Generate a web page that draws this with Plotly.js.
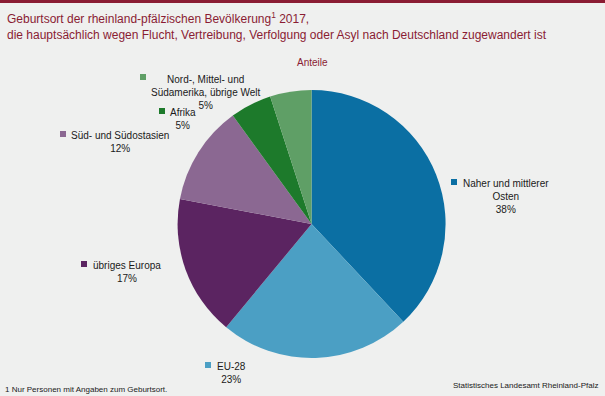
<!DOCTYPE html>
<html><head><meta charset="utf-8">
<script src="https://cdn.plot.ly/plotly-3.0.1.min.js"></script>
<style>html,body{margin:0;padding:0;background:#eff0ef;}#chart{width:605px;height:396px;}</style>
</head><body><div id="chart"></div>
<script>
const categories = ["Naher und mittlerer Osten", "EU-28", "übriges Europa", "Süd- und Südostasien", "Afrika", "Nord-, Mittel- und Südamerika, übrige Welt"];
const labelTexts = ["Naher und mittlerer<br>Osten", "EU-28", "übriges Europa", "Süd- und Südostasien", "Afrika", "Nord-, Mittel- und<br>Südamerika, übrige Welt"];
const shares = [38, 23, 17, 12, 5, 5];
const colors = ["#0b6fa3", "#4b9fc4", "#5b2461", "#8b6892", "#1d7a2b", "#5f9f66"];
const titleText = "Geburtsort der rheinland-pfälzischen Bevölkerung<sup>1</sup> 2017,<br>die hauptsächlich wegen Flucht, Vertreibung, Verfolgung oder Asyl nach Deutschland zugewandert ist";

const W = 605, H = 396;
const px = x => x / W, py = y => 1 - y / H;
const FONT = "Liberation Sans, Arial, sans-serif";

// label layout (pixel positions): text block center x, top y, square x, square y
const labelPos = [
  {cx: 506, ty: 176, sx: 454, sy: 182},
  {cx: 231, ty: 359, sx: 208, sy: 365},
  {cx: 127, ty: 258, sx: 84, sy: 264},
  {cx: 120, ty: 128, sx: 63, sy: 134},
  {cx: 183, ty: 105, sx: 162, sy: 111},
  {cx: 206, ty: 72, sx: 143, sy: 77}
];

const annotations = [];
const shapes = [{type: "rect", xref: "paper", yref: "paper", x0: 0, x1: 1, y0: py(3), y1: 1, fillcolor: "#8a1c33", line: {width: 0}}];
categories.forEach((c, i) => {
  const p = labelPos[i];
  annotations.push({xref: "paper", yref: "paper", x: px(p.cx), y: py(p.ty), xanchor: "center", yanchor: "top",
    text: labelTexts[i] + "<br>" + shares[i] + "%", showarrow: false, align: "center",
    font: {family: FONT, size: 10, color: "#1a1a1a"}});
  shapes.push({type: "rect", xref: "paper", yref: "paper", x0: px(p.sx - 3), x1: px(p.sx + 3), y0: py(p.sy + 3), y1: py(p.sy - 3), fillcolor: colors[i], line: {width: 0}});
});
annotations.push({xref: "paper", yref: "paper", x: px(5), y: py(8), xanchor: "left", yanchor: "top", align: "left", text: titleText, showarrow: false,
  font: {family: FONT, size: 12, color: "#8a1c33"}});
annotations.push({xref: "paper", yref: "paper", x: px(312), y: py(63), xanchor: "center", yanchor: "middle", text: "Anteile", showarrow: false,
  font: {family: FONT, size: 10, color: "#8a1c33"}});
annotations.push({xref: "paper", yref: "paper", x: px(3), y: py(389), xanchor: "left", yanchor: "middle", text: "1 Nur Personen mit Angaben zum Geburtsort.", showarrow: false,
  font: {family: FONT, size: 8, color: "#1a1a1a"}});
annotations.push({xref: "paper", yref: "paper", x: px(600), y: py(385), xanchor: "right", yanchor: "middle", text: "Statistisches Landesamt Rheinland-Pfalz", showarrow: false,
  font: {family: FONT, size: 8, color: "#1a1a1a"}});

const trace = {type: "pie", labels: categories, values: shares, sort: false, direction: "clockwise", rotation: 0,
  marker: {colors: colors, line: {width: 0}}, textinfo: "none", hoverinfo: "label+percent", showlegend: false,
  domain: {x: [0.2, 0.83], y: [py(224) - 134 / H, py(224) + 134 / H]}};

const layout = {width: W, height: H, margin: {l: 0, r: 0, t: 0, b: 0}, paper_bgcolor: "#eff0ef", plot_bgcolor: "#eff0ef",
  annotations: annotations, shapes: shapes};

Plotly.newPlot("chart", [trace], layout, {displayModeBar: false, staticPlot: true});
</script></body></html>
